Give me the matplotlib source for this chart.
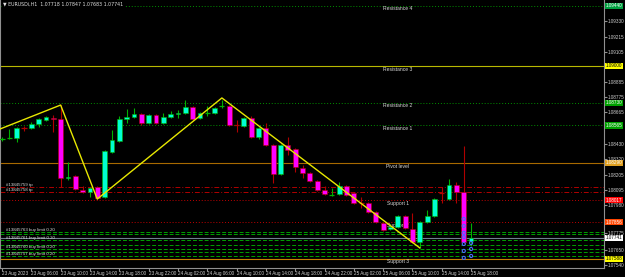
import matplotlib
matplotlib.use("Agg")
import matplotlib.pyplot as plt
import matplotlib.transforms as mtrans

plt.rcParams['font.family'] = ['Liberation Sans', 'DejaVu Sans']

# EURUSDi H1 candles, index 0 = 23 Aug 2023 02:00
opens = [1.08464, 1.08469, 1.08473, 1.08550, 1.08546, 1.08576, 1.08605, 1.08619, 1.08612, 1.08180,
         1.08195, 1.08092, 1.08078, 1.08114, 1.08041, 1.08370, 1.08451, 1.08612, 1.08627, 1.08648,
         1.08583, 1.08641, 1.08583, 1.08627, 1.08648, 1.08656, 1.08699, 1.08619, 1.08652, 1.08656,
         1.08703, 1.08707, 1.08568, 1.08561, 1.08619, 1.08480, 1.08546, 1.08422, 1.08209, 1.08422,
         1.08392, 1.08253, 1.08217, 1.08158, 1.08092, 1.08052, 1.08063, 1.08122, 1.08070, 1.07997,
         1.07997, 1.07931, 1.07851, 1.07807, 1.07821, 1.07902, 1.07807, 1.07712, 1.07858, 1.07902,
         1.08070, 1.08026, 1.08129, 1.08078, 1.07718]
highs = [1.08480, 1.08539, 1.08553, 1.08561, 1.08590, 1.08619, 1.08634, 1.08641, 1.08714, 1.08297,
         1.08202, 1.08122, 1.08114, 1.08122, 1.08385, 1.08531, 1.08634, 1.08685, 1.08692, 1.08656,
         1.08648, 1.08648, 1.08656, 1.08670, 1.08678, 1.08751, 1.08707, 1.08663, 1.08707, 1.08699,
         1.08751, 1.08714, 1.08605, 1.08627, 1.08634, 1.08553, 1.08583, 1.08429, 1.08429, 1.08480,
         1.08400, 1.08275, 1.08224, 1.08166, 1.08122, 1.08107, 1.08151, 1.08129, 1.08078, 1.08041,
         1.08004, 1.07938, 1.07858, 1.07843, 1.07909, 1.07909, 1.07924, 1.07865, 1.07946, 1.08034,
         1.08114, 1.08173, 1.08151, 1.08414, 1.07847]
lows = [1.08451, 1.08466, 1.08444, 1.08524, 1.08539, 1.08553, 1.08598, 1.08517, 1.08114, 1.08166,
        1.08092, 1.08070, 1.08041, 1.08026, 1.08034, 1.08363, 1.08444, 1.08583, 1.08619, 1.08568,
        1.08576, 1.08576, 1.08576, 1.08619, 1.08619, 1.08648, 1.08605, 1.08612, 1.08634, 1.08648,
        1.08692, 1.08561, 1.08517, 1.08553, 1.08473, 1.08466, 1.08414, 1.08143, 1.08202, 1.08348,
        1.08224, 1.08180, 1.08151, 1.08085, 1.08056, 1.08048, 1.08056, 1.08048, 1.07990, 1.07960,
        1.07924, 1.07851, 1.07792, 1.07799, 1.07814, 1.07807, 1.07704, 1.07668, 1.07851, 1.07895,
        1.07997, 1.08019, 1.07997, 1.07704, 1.07683]
closes = [1.08466, 1.08473, 1.08546, 1.08546, 1.08576, 1.08612, 1.08627, 1.08612, 1.08180, 1.08187,
          1.08100, 1.08078, 1.08107, 1.08034, 1.08378, 1.08458, 1.08612, 1.08627, 1.08648, 1.08583,
          1.08641, 1.08583, 1.08627, 1.08648, 1.08656, 1.08699, 1.08612, 1.08656, 1.08656, 1.08692,
          1.08707, 1.08568, 1.08564, 1.08619, 1.08480, 1.08546, 1.08422, 1.08209, 1.08422, 1.08385,
          1.08261, 1.08217, 1.08158, 1.08092, 1.08063, 1.08056, 1.08122, 1.08056, 1.07997, 1.07993,
          1.07931, 1.07858, 1.07799, 1.07821, 1.07902, 1.07814, 1.07712, 1.07858, 1.07902, 1.08026,
          1.08067, 1.08129, 1.08078, 1.07712, 1.07741]

time_labels = ["23 Aug 2023", "23 Aug 06:00", "23 Aug 10:00", "23 Aug 14:00", "23 Aug 18:00",
               "23 Aug 22:00", "24 Aug 02:00", "24 Aug 06:00", "24 Aug 10:00", "24 Aug 14:00",
               "24 Aug 18:00", "24 Aug 22:00", "25 Aug 02:00", "25 Aug 06:00", "25 Aug 10:00",
               "25 Aug 14:00", "25 Aug 18:00"]
price_ticks = [1.09330, 1.09215, 1.09105, 1.08885, 1.08775, 1.08665, 1.08430, 1.08320,
               1.08205, 1.08095, 1.07980, 1.07775, 1.07650, 1.07540]

# zigzag vertices (bar index, price)
zz_bars = [-6, 8, 13, 30, 57]
zz_prices = [1.08417, 1.08714, 1.08026, 1.08766, 1.07668]

# pivot levels
level_names = ["Resistance 4", "Resistance 3", "Resistance 2", "Resistance 1", "Pivot level",
               "Support 1", "Support 2", "Support 3"]
level_prices = [1.09440, 1.09000, 1.08730, 1.08565, 1.08290, 1.08017, 1.07856, 1.07588]

tp_prices = [1.08114, 1.08078]
tp_labels = ["#13845759 tp", "#13845758 tp"]
buy_limit_prices = [1.07785, 1.07770, 1.07726, 1.07690, 1.07660, 1.07638, 1.07609]
buy_limit_labels = ["#13845763 buy limit 0.20", "", "#13845761 buy limit 0.20",
                    "", "#13845760 buy limit 0.20", "", "#13845757 buy limit 0.20"]
bid = 1.07741

order_bars = [63, 63, 63, 63, 63, 63, 63, 64, 64, 64]
order_prices = [1.07880, 1.07829, 1.07778, 1.07748, 1.07697, 1.07646, 1.07595, 1.07704, 1.07660, 1.07609]

fig = plt.figure(figsize=(6.25, 2.77), dpi=100, facecolor="black")
ax = fig.add_axes([0, 9 / 277, 604 / 625, 268 / 277])
ax.set_facecolor("black")
ax.set_xlim(-0.27, 82.13)
ax.set_ylim(1.07521, 1.09483)

# horizontal lines
lvl_style = [("#009000", (0, (1, 2)), 0.7), ("#b8b800", "-", 0.8), ("#009000", (0, (1, 2)), 0.7),
             ("#009000", (0, (1, 2)), 0.7), ("#a86a00", "-", 0.8), ("#c00000", (0, (1, 2)), 0.7),
             ("#c00000", (0, (1, 2)), 0.7), ("#c88000", "-", 0.8)]
for p, (c, ls, lw) in zip(level_prices, lvl_style):
    ax.axhline(p, color=c, ls=ls, lw=lw, zorder=1)
for name, p in zip(level_names, level_prices):
    ax.text(54, p - 0.00004, name, color="#d8d8d8", fontsize=3.6, ha="center", va="top", zorder=2)

for p, lab in zip(tp_prices, tp_labels):
    ax.axhline(p, color="#b00000", ls=(0, (5, 2, 1, 2)), lw=0.7, zorder=1)
    ax.text(0.5, p + 0.00002, lab, color="#d8d8d8", fontsize=3.2, va="bottom", zorder=2)
for p, lab in zip(buy_limit_prices, buy_limit_labels):
    ax.axhline(p, color="#00a000", ls=(0, (4, 2)), lw=0.7, zorder=1)
    if lab:
        ax.text(0.5, p + 0.00001, lab, color="#d8d8d8", fontsize=3.2, va="bottom", zorder=2)
ax.axhline(bid, color="#708090", lw=0.8, zorder=1)

# zigzag
ax.plot(zz_bars, zz_prices, color="#e8e800", lw=1.0, zorder=4)

# candles
for i, (o, h, l, c) in enumerate(zip(opens, highs, lows, closes)):
    up = c >= o
    wick = "#00b000" if up else "#b00000"
    body = "#00ffd0" if up else "#ff00ff"
    ax.vlines(i, l, h, color=wick, lw=0.8, zorder=3)
    hgt = abs(c - o)
    if hgt < 0.00007:
        ax.hlines((o + c) / 2, i - 0.35, i + 0.35, color=wick, lw=0.9, zorder=3)
    else:
        ax.bar(i, hgt, bottom=min(o, c), width=0.65, color=body, edgecolor=wick, lw=0.4, zorder=3)

# order markers
ax.scatter(order_bars, order_prices, s=5, facecolors="none", edgecolors="#4a6cff", lw=0.8, zorder=5)

# axes styling
ax.spines["top"].set_visible(False)
for s in ["left", "right", "bottom"]:
    ax.spines[s].set_color("#909090")
    ax.spines[s].set_linewidth(0.8)
ax.yaxis.tick_right()
ax.set_yticks(price_ticks)
ax.set_yticklabels([f"{p:.5f}" for p in price_ticks])
ax.tick_params(axis="y", colors="#909090", labelcolor="#d0d0d0", labelsize=3.3, length=2, pad=1)
ax.set_xticks(list(range(0, 65, 4)))
ax.set_xticklabels(time_labels, ha="left")
ax.tick_params(axis="x", colors="#909090", labelcolor="#d0d0d0", labelsize=3.3, length=2, pad=0.5)

# price boxes on the scale
box_prices = level_prices + [bid]
box_colors = ["#00a040", "#ffff00", "#00a000", "#00a000", "#e0a020", "#ff0000", "#ff4500", "#ffff00", "#ffffff"]
box_text = ["white", "black", "white", "white", "white", "white", "white", "black", "black"]
trans = mtrans.blended_transform_factory(ax.transAxes, ax.transData)
for p, fc, tc in zip(box_prices, box_colors, box_text):
    ax.text(1.003, p, f"{p:.5f}", transform=trans, fontsize=3.3, color=tc, ha="left", va="center",
            bbox=dict(boxstyle="square,pad=0.15", fc=fc, ec="none"), clip_on=False, zorder=6)

# header
ax.text(0.005, 0.995, "\u25bc EURUSDi,H1  1.07718 1.07847 1.07683 1.07741", transform=ax.transAxes,
        color="#e0e0e0", fontsize=3.4, ha="left", va="top", family=["DejaVu Sans"],
        bbox=dict(boxstyle="square,pad=0.2", fc="black", ec="none"), zorder=7)

fig.savefig("out.png", dpi=100, facecolor="black")
